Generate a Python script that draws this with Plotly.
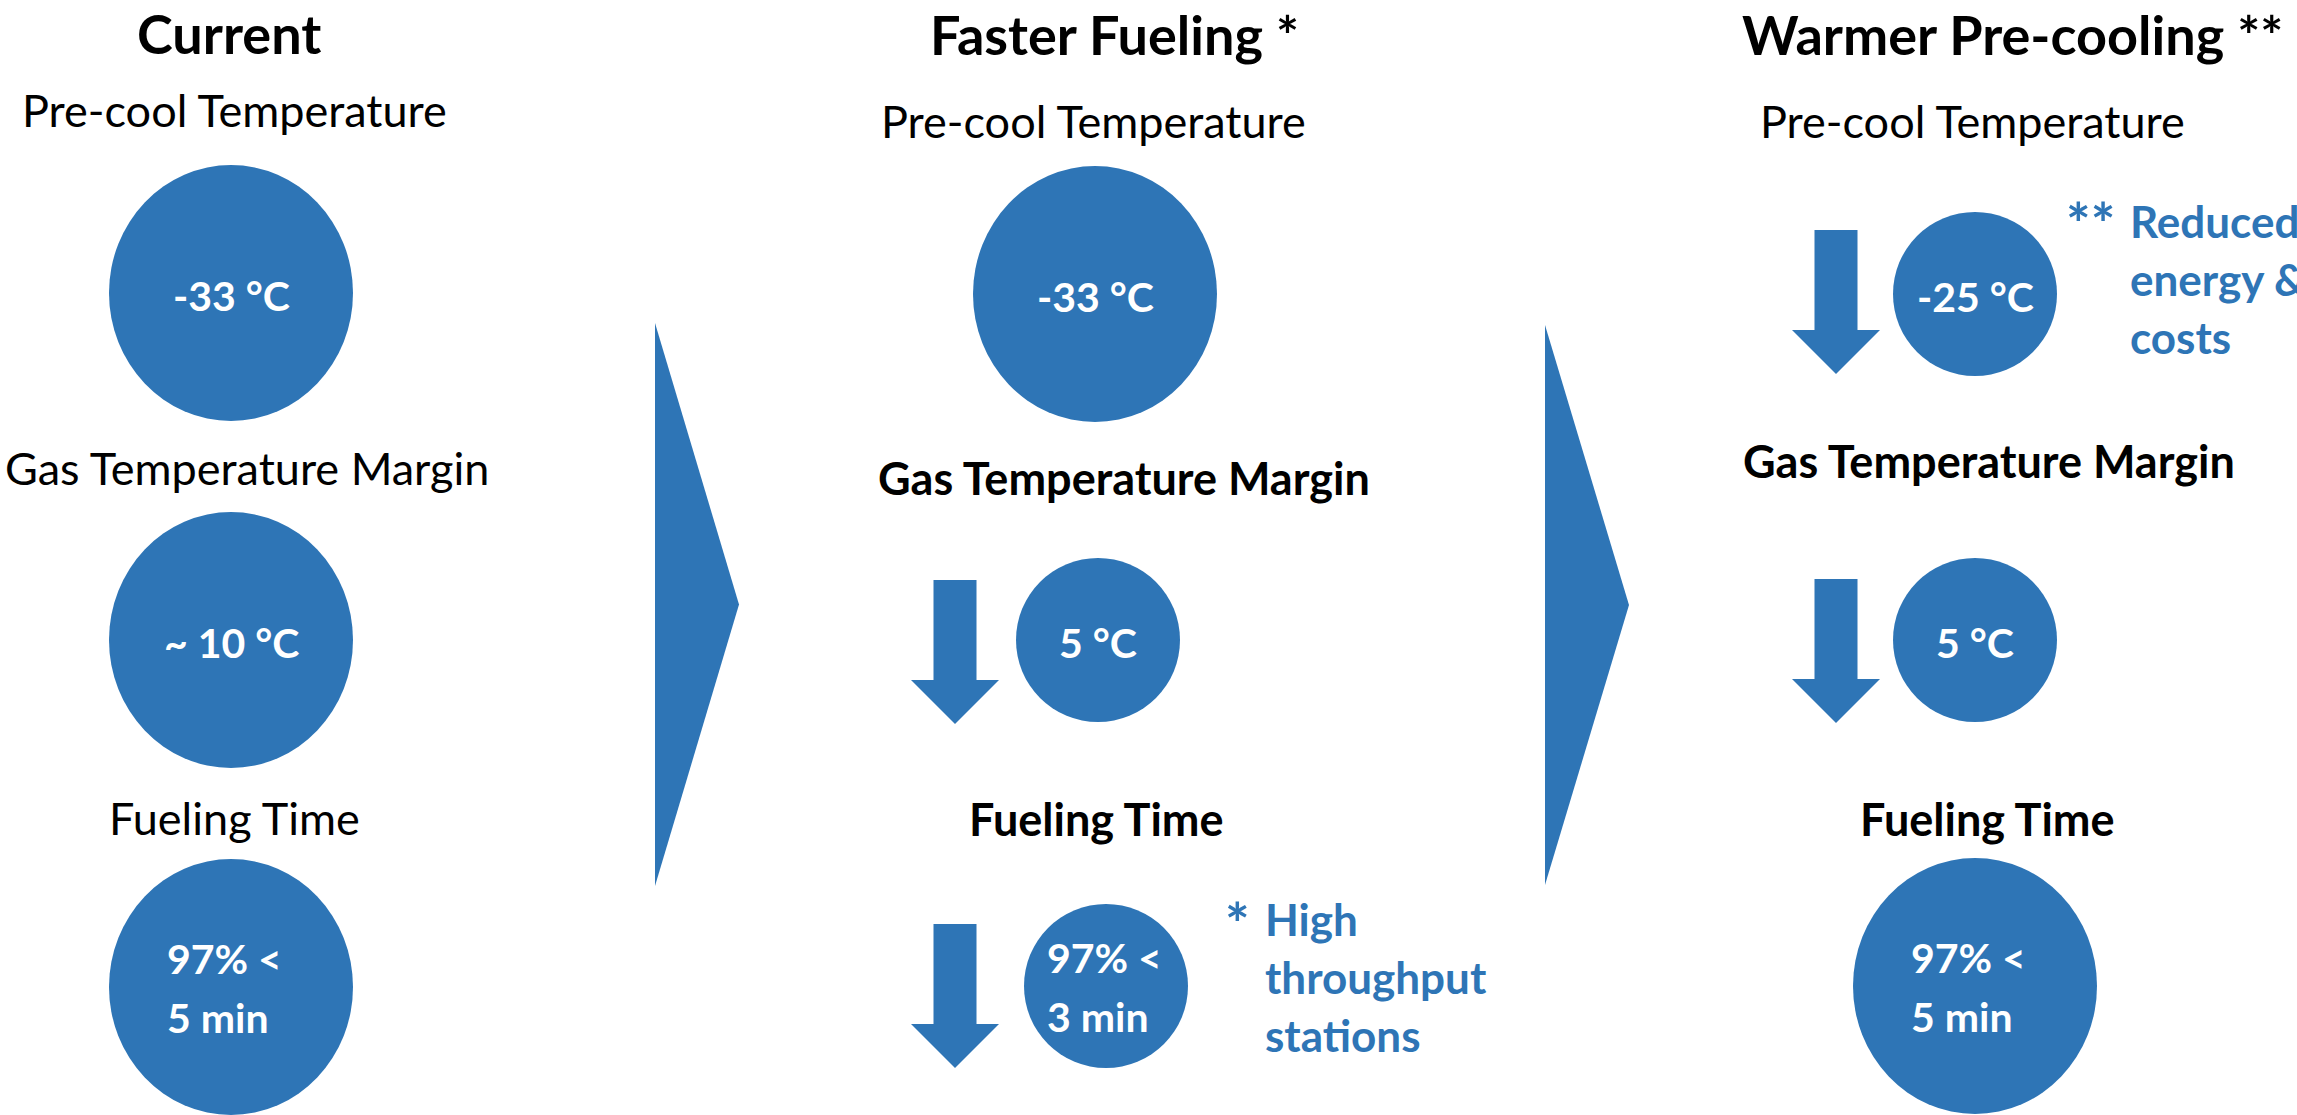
import plotly.graph_objects as go

# ---- content ----
scenarios = ["Current", "Faster Fueling *", "Warmer Pre-cooling **"]
metrics = ["Pre-cool Temperature", "Gas Temperature Margin", "Fueling Time"]
current_values = ["-33 °C", "~ 10 °C", "97% <\n5 min"]
faster_values = ["-33 °C", "5 °C", "97% <\n3 min"]
warmer_values = ["-25 °C", "5 °C", "97% <\n5 min"]
# which metrics move down relative to the current practice
faster_reduced = [False, True, True]
warmer_reduced = [True, True, False]
faster_note = ("*", "High\nthroughput\nstations")
warmer_note = ("**", "Reduced\nenergy &\ncosts")

# ---- styling / geometry (pixel canvas, y grows downward) ----
W, H = 2297, 1115
BLUE = "#2E75B6"
FONT = "Lato"
TITLE_SIZE, LABEL_SIZE, VALUE_SIZE, NOTE_SIZE = 54, 45, 41, 44

col_layout = [
    dict(title=(229, 33),
         labels=[(234, 110), (247, 468), (234, 818)], label_bold=[False, False, False],
         circles=[(231, 293, "big"), (231, 640, "big"), (231, 987, "big")],
         arrow_x=None, arrow_tops=[None, None, None],
         note_marker=None, note_text=None),
    dict(title=(1114, 34),
         labels=[(1093, 121), (1124, 478), (1096, 819)], label_bold=[False, True, True],
         circles=[(1095, 294, "big"), (1098, 640, "small"), (1106, 986, "small")],
         arrow_x=955, arrow_tops=[None, 580, 924],
         note_marker=(1237, 922), note_text=(1263, 919)),
    dict(title=(2012, 34),
         labels=[(1972, 121), (1989, 461), (1987, 819)], label_bold=[False, True, True],
         circles=[(1975, 294, "small"), (1975, 640, "small"), (1975, 986, "big")],
         arrow_x=1836, arrow_tops=[230, 579, None],
         note_marker=(2090, 222), note_text=(2128, 221)),
]
radius = {"big": (122, 128), "small": (82, 82)}
two_line_left = {"big": -66, "small": -61}
line_gap = 59
note_gap = 58
chevrons = [(655, 323, 739, 886), (1545, 325, 1629, 885)]

fig = go.Figure()
shapes, annotations = [], []


def text(x, y, s, size, color="black", bold=False, xanchor="center"):
    annotations.append(dict(
        x=x, y=y, xref="x", yref="y", text=f"<b>{s}</b>" if bold else s,
        showarrow=False, xanchor=xanchor, yanchor="middle",
        font=dict(family=FONT, size=size, color=color)))


def down_arrow(cx, top):
    shaft_w, head_w, shaft_h, head_h = 43, 88, 100, 44
    pts = [(cx - shaft_w / 2, top), (cx + shaft_w / 2, top),
           (cx + shaft_w / 2, top + shaft_h), (cx + head_w / 2, top + shaft_h),
           (cx, top + shaft_h + head_h), (cx - head_w / 2, top + shaft_h),
           (cx - shaft_w / 2, top + shaft_h)]
    path = "M " + " L ".join(f"{x},{y}" for x, y in pts) + " Z"
    shapes.append(dict(type="path", path=path, xref="x", yref="y",
                       fillcolor=BLUE, line=dict(width=0)))


all_values = [current_values, faster_values, warmer_values]
all_reduced = [[False] * 3, faster_reduced, warmer_reduced]
all_notes = [None, faster_note, warmer_note]

for title, vals, reduced, note, lay in zip(scenarios, all_values, all_reduced,
                                           all_notes, col_layout):
    tx, ty = lay["title"]
    text(tx, ty, title, TITLE_SIZE, bold=True)
    for i, metric in enumerate(metrics):
        lx, ly = lay["labels"][i]
        text(lx, ly, metric, LABEL_SIZE, bold=lay["label_bold"][i])
        cx, cy, kind = lay["circles"][i]
        rx, ry = radius[kind]
        shapes.append(dict(type="circle", xref="x", yref="y",
                           x0=cx - rx, x1=cx + rx, y0=cy - ry, y1=cy + ry,
                           fillcolor=BLUE, line=dict(width=0)))
        lines = vals[i].split("\n")
        if len(lines) == 1:
            text(cx, cy + 2, lines[0], VALUE_SIZE, color="white", bold=True)
        else:
            x_left = cx + two_line_left[kind]
            for k, ln in enumerate(lines):
                text(x_left, cy - 29 + k * line_gap, ln, VALUE_SIZE, color="white",
                     bold=True, xanchor="left")
        if reduced[i] and lay["arrow_tops"][i] is not None:
            down_arrow(lay["arrow_x"], lay["arrow_tops"][i])
    if note:
        marker, body = note
        mx, my = lay["note_marker"]
        text(mx, my, marker, 58, color=BLUE, bold=True)
        nx, ny = lay["note_text"]
        for k, ln in enumerate(body.split("\n")):
            text(nx, ny + k * note_gap, ln, NOTE_SIZE, color=BLUE, bold=True,
                 xanchor="left")

for x0, y0, xt, y1 in chevrons:
    shapes.append(dict(type="path", xref="x", yref="y",
                       path=f"M {x0},{y0} L {xt},{(y0 + y1) / 2} L {x0},{y1} Z",
                       fillcolor=BLUE, line=dict(width=0)))

fig.update_layout(
    width=W, height=H, margin=dict(l=0, r=0, t=0, b=0),
    paper_bgcolor="white", plot_bgcolor="white",
    xaxis=dict(range=[0, W], visible=False, fixedrange=True),
    yaxis=dict(range=[H, 0], visible=False, fixedrange=True),
    shapes=shapes, annotations=annotations, showlegend=False,
)
fig.write_html("out.html")
